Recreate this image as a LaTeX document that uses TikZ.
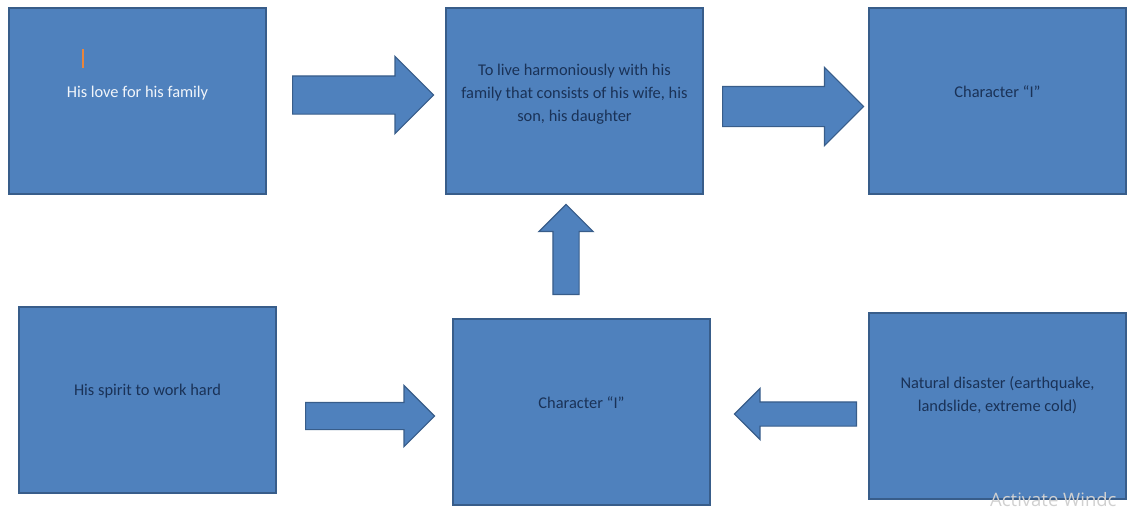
\documentclass[tikz,border=0pt]{standalone}
\usepackage{fontspec}
\setmainfont{Carlito}
\setsansfont{Open Sans}
\usepackage{tikz}
\usetikzlibrary{shapes.arrows}
\definecolor{boxblue}{HTML}{4F81BD}
\definecolor{edgeblue}{HTML}{385D8A}
\definecolor{inkblue}{HTML}{1A3257}
\definecolor{cursor}{HTML}{E8853C}
\definecolor{mark}{HTML}{D0D0D0}
\tikzset{
  block/.style={rectangle, fill=boxblue, draw=edgeblue, line width=1.5pt,
    minimum width=257pt, minimum height=186pt, inner sep=0pt},
  lbl/.style={align=center, text=inkblue, inner sep=0pt,
    font=\fontsize{16.4}{23}\selectfont},
  fat/.style={single arrow, fill=boxblue, draw=edgeblue, line width=1.2pt,
    anchor=tail, single arrow head indent=0pt}
}

\begin{document}
\begin{tikzpicture}[x=1pt, y=-1pt]
  \useasboundingbox (0,0) rectangle (1143,512);

  % Boxes
  \node[block] (love)    at (137.5,101) {};
  \node[block] (live)    at (574.5,101) {};
  \node[block] (charTop) at (997.5,101) {};
  \node[block] (spirit)  at (147.5,400) {};
  \node[block] (charBot) at (581.5,412) {};
  \node[block] (nature)  at (997.5,406) {};

  % Texts
  \node[lbl, text=white!92!boxblue] (loveTxt) at ([yshift=8pt]love.center) {His love for his family};
  \node[lbl] (liveTxt) at ([yshift=7pt]live.center)
    {To live harmoniously with his\\family that consists of his wife, his\\son, his daughter};
  \node[lbl] (charTopTxt) at ([yshift=9pt]charTop.center) {Character “I”};
  \node[lbl] (spiritTxt)  at ([yshift=9pt]spirit.center) {His spirit to work hard};
  \node[lbl] (charBotTxt) at ([yshift=9pt]charBot.center) {Character “I”};
  \node[lbl] (natureTxt)  at ([yshift=10.5pt]nature.center)
    {Natural disaster (earthquake,\\landslide, extreme cold)};

  % Block arrows
  \node[fat, minimum height=141pt, inner sep=18.5pt, single arrow head extend=19.5pt]
    (loveToLive) at (292,95) {};
  \node[fat, minimum height=141pt, inner sep=19.5pt, single arrow head extend=19pt]
    (liveToChar) at (722,106.5) {};
  \node[fat, minimum height=90pt, inner sep=12.5pt, single arrow head extend=14pt,
    shape border rotate=90] (charToLive) at (566,295) {};
  \node[fat, minimum height=129pt, inner sep=13pt, single arrow head extend=17pt]
    (spiritToChar) at (305,416) {};
  \node[fat, minimum height=122pt, inner sep=11.5pt, single arrow head extend=13.5pt,
    shape border rotate=180] (natureToChar) at (857,414) {};

  % Cursor and watermark
  \draw[cursor, line width=1.2pt] (83,49) -- (83,68);
  \node[anchor=west, text=mark, inner sep=0pt, font=\sffamily\fontsize{18.5}{19}\selectfont]
    (winMark) at (990,500) {Activate Windc};
\end{tikzpicture}
\end{document}
